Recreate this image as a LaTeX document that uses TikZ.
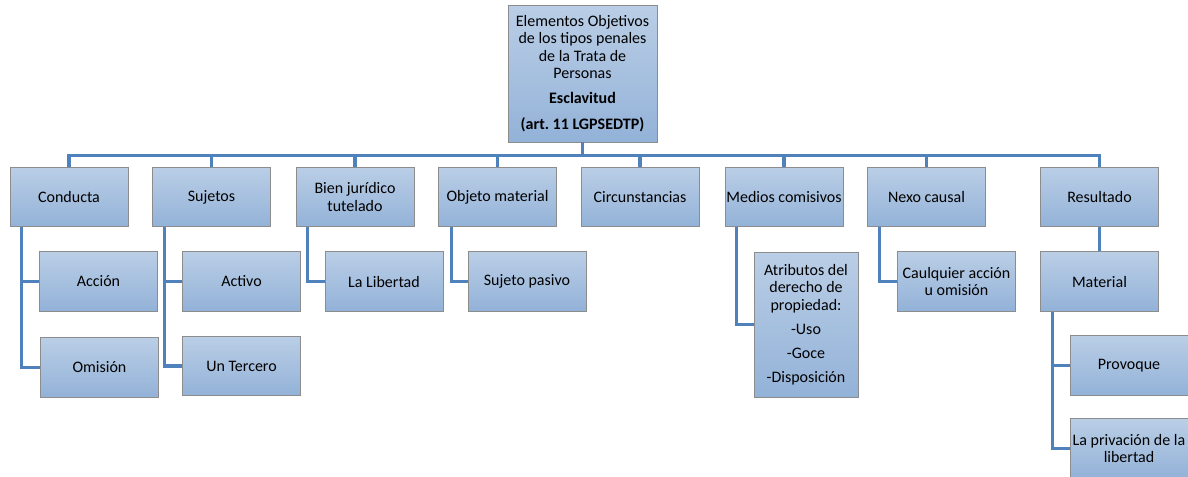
\documentclass[tikz,border=0pt]{standalone}
\usepackage{fontspec}
\setmainfont{Carlito}
\begin{document}
\begin{tikzpicture}[x=0.75pt,y=-0.75pt,
  box/.style={draw=black!45, line width=0.6pt, top color=boxtop, bottom color=boxbot,
    minimum width=88.5pt, minimum height=44.5pt, inner sep=1pt, align=center,
    font=\fontsize{12}{13}\selectfont},
  conn/.style={draw=linec, line width=2.3pt}]
\definecolor{boxtop}{HTML}{BACEE6}
\definecolor{boxbot}{HTML}{93B2D8}
\definecolor{linec}{HTML}{4F81BD}
\useasboundingbox (0,0) rectangle (1188,476);
\clip (0,0) rectangle (1188,476);
% top
\node[box, minimum width=111.75pt, minimum height=102.75pt] (top) at (582.5,73.5)
  {Elementos Objetivos\\de los tipos penales\\de la Trata de\\Personas\\[6pt]\textbf{Esclavitud}\\[6pt]\textbf{(art.\ 11 LGPSEDTP)}};
% level 1
\node[box] (c1) at (69,197) {Conducta};
\node[box] (c2) at (211.5,197) {Sujetos};
\node[box] (c3) at (355,197) {Bien jurídico\\tutelado};
\node[box] (c4) at (497.5,197) {Objeto material};
\node[box] (c5) at (640,197) {Circunstancias};
\node[box] (c6) at (784,197) {Medios comisivos};
\node[box] (c7) at (926.5,197) {Nexo causal};
\node[box] (c8) at (1099.5,197) {Resultado};
% level 2
\node[box] (acc) at (98.5,281.5) {Acción};
\node[box] (omi) at (99.5,367.5) {Omisión};
\node[box] (act) at (241.5,281.5) {Activo};
\node[box] (ter) at (241.5,366) {Un Tercero};
\node[box] (lib) at (384,281.5) {La Libertad};
\node[box] (pas) at (527,281.5) {Sujeto pasivo};
\node[box, minimum width=78pt, minimum height=108.75pt] (atr) at (806,324.5)
  {Atributos del\\derecho de\\propiedad:\\[5pt]-Uso\\[5pt]-Goce\\[5pt]-Disposición};
\node[box] (cua) at (956.5,281.5) {Caulquier acción\\u omisión};
\node[box] (mat) at (1099.5,281.5) {Material};
\node[box] (pro) at (1129,365.5) {Provoque};
\node[box] (pri) at (1129,448.5) {La privación de la\\libertad};
% connectors
\coordinate (bus) at (0,155.5);
\draw[conn] (top.south) -- (top.south |- bus);
\draw[conn, line cap=rect] (c1.north |- bus) -- (c8.north |- bus);
\foreach \n in {c1,c2,c3,c4,c5,c6,c7,c8}
  \draw[conn] (\n.north) -- (\n.north |- bus);
\draw[conn] ([xshift=9pt]c1.south west) |- (acc.west);
\draw[conn] ([xshift=9pt]c1.south west) |- (omi.west);
\draw[conn] ([xshift=9pt]c2.south west) |- (act.west);
\draw[conn] ([xshift=9pt]c2.south west) |- (ter.west);
\draw[conn] ([xshift=9pt]c3.south west) |- (lib.west);
\draw[conn] ([xshift=9.75pt]c4.south west) |- (pas.west);
\draw[conn] ([xshift=9pt]c6.south west) |- (atr.west);
\draw[conn] ([xshift=9pt]c7.south west) |- (cua.west);
\draw[conn] (c8.south) -- (mat.north);
\draw[conn] ([xshift=9pt]mat.south west) |- (pro.west);
\draw[conn] ([xshift=9pt]mat.south west) |- (pri.west);
\end{tikzpicture}
\end{document}
